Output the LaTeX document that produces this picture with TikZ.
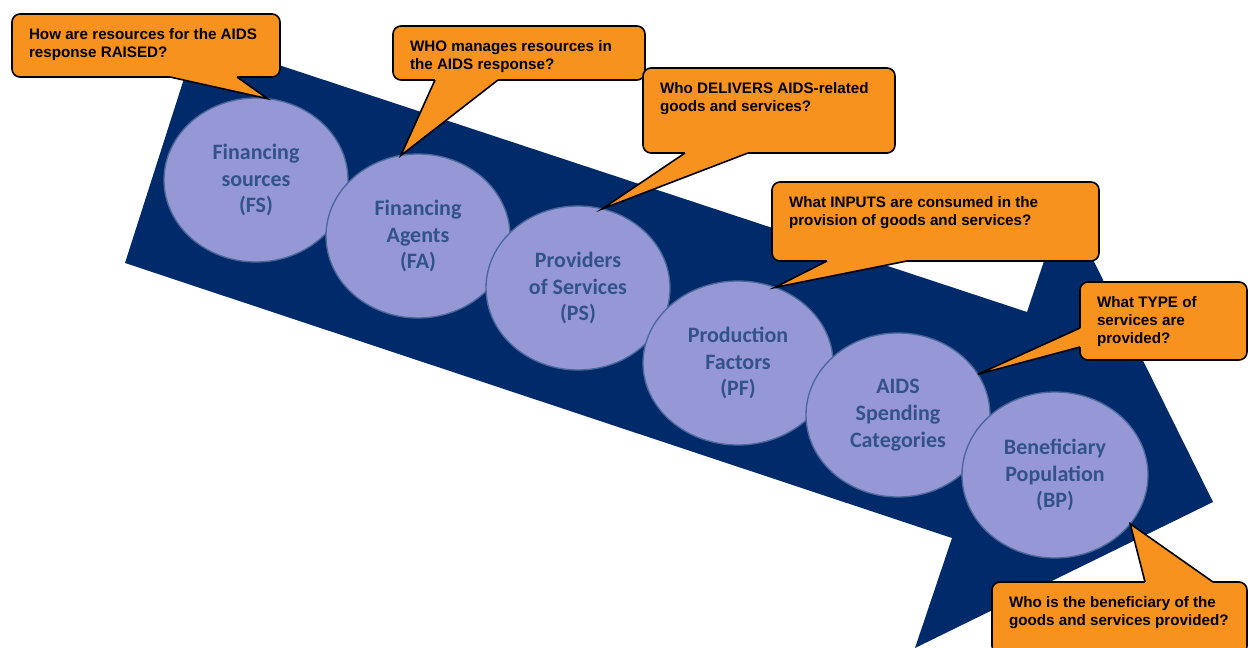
\documentclass[tikz,border=0pt]{standalone}
\usepackage{fontspec}
\setmainfont{Liberation Sans}
\newfontfamily\bubfont{Carlito}
\usepackage{tikz}
\usetikzlibrary{calc,shapes.geometric}
\definecolor{flowNavy}{HTML}{012A6B}
\definecolor{bubFill}{HTML}{9698D6}
\definecolor{bubLine}{HTML}{4A6898}
\definecolor{bubText}{HTML}{335388}
\definecolor{askFill}{HTML}{F7921E}

% question text: top aligned in a box of fixed size
\newcommand\asktext[3]{\parbox[t][#2][t]{#1}{\raggedright #3}}
% speech tail: base a, base b, tip, shift into the box
\newcommand\asktail[4]{%
  \fill[askFill] ($(#1)+(#4)$) -- (#1) -- (#3) -- (#2) -- ($(#2)+(#4)$) -- cycle;
  \draw[tail] (#1) -- (#3) -- (#2);}

\begin{document}
\begin{tikzpicture}[
  x=0.75pt,y=-0.75pt,
  bub/.style={ellipse,draw=bubLine,line width=1pt,fill=bubFill,
    minimum width=138pt,minimum height=123pt,inner sep=0pt,outer sep=0pt,
    align=center,text=bubText,font=\bubfont\bfseries\fontsize{16.5}{20}\selectfont},
  ask/.style={draw=black,line width=1.2pt,fill=askFill,rounded corners=6pt,
    anchor=north west,inner xsep=12.75pt,inner ysep=10.5pt,outer sep=0pt,
    font=\bfseries\fontsize{11.4}{13.8}\selectfont},
  tail/.style={draw=black,line width=1.2pt}
]
\useasboundingbox (0,0) rectangle (1248,648);

% the big flow arrow behind the chain
\fill[flowNavy] (197,38) -- (1027,312) -- (1064,201) -- (1213,502)
  -- (915,648) -- (952,538) -- (125,263) -- cycle;

% resource tracking chain
\node[bub] (fs) at (256,180) {Financing\\sources\\(FS)};
\node[bub] (fa) at (418,236) {Financing\\Agents\\(FA)};
\node[bub] (ps) at (578,288) {Providers\\of Services\\(PS)};
\node[bub,minimum width=142.5pt] (pf) at (738,363) {Production\\Factors\\(PF)};
\node[bub] (asc) at (898,415) {AIDS\\Spending\\Categories};
\node[bub,minimum width=139.5pt,minimum height=124.5pt] (bp) at (1055,475)
  {Beneficiary\\Population\\(BP)};

% questions
\node[ask] (q1) at (12,14) {\asktext{175.5pt}{26.25pt}{How are resources for the AIDS\\
  response RAISED?}};
\node[ask] (q2) at (393,26) {\asktext{163.5pt}{19.5pt}{WHO manages resources in\\
  the AIDS response?}};
\node[ask] (q3) at (643,68) {\asktext{163.5pt}{42.75pt}{Who DELIVERS AIDS-related\\
  goods and services?}};
\node[ask] (q4) at (772,182) {\asktext{219.75pt}{38.25pt}{What INPUTS are consumed in the\\
  provision of goods and services?}};
\node[ask] (q5) at (1080,282) {\asktext{99.75pt}{37.5pt}{What TYPE of\\
  services are\\ provided?}};
\node[ask] (q6) at (992,582) {\asktext{165.75pt}{33pt}{Who is the beneficiary of the\\
  goods and services provided?}};

% tails
\coordinate (q1a) at ($(q1.south west)+(158,0)$);
\coordinate (q1b) at ($(q1.south west)+(225,0)$);
\coordinate (q2a) at ($(q2.south west)+(42,0)$);
\coordinate (q2b) at ($(q2.south west)+(105,0)$);
\coordinate (q3a) at ($(q3.south west)+(42,0)$);
\coordinate (q3b) at ($(q3.south west)+(105,0)$);
\coordinate (q4a) at ($(q4.south west)+(55,0)$);
\coordinate (q4b) at ($(q4.south west)+(135,0)$);
\coordinate (q5a) at ($(q5.north west)+(0,46)$);
\coordinate (q5b) at ($(q5.north west)+(0,65)$);
\coordinate (q6a) at ($(q6.north west)+(153,0)$);
\coordinate (q6b) at ($(q6.north west)+(221,0)$);
\asktail{q1a}{q1b}{fs.82}{0,-3}
\asktail{q2a}{q2b}{fa.102}{0,-3}
\asktail{q3a}{q3b}{ps.73}{0,-3}
\asktail{q4a}{q4b}{pf.64}{0,-3}
\asktail{q5a}{q5b}{asc.27}{3,0}
\asktail{q6a}{q6b}{bp.-33}{0,3}
\end{tikzpicture}
\end{document}
